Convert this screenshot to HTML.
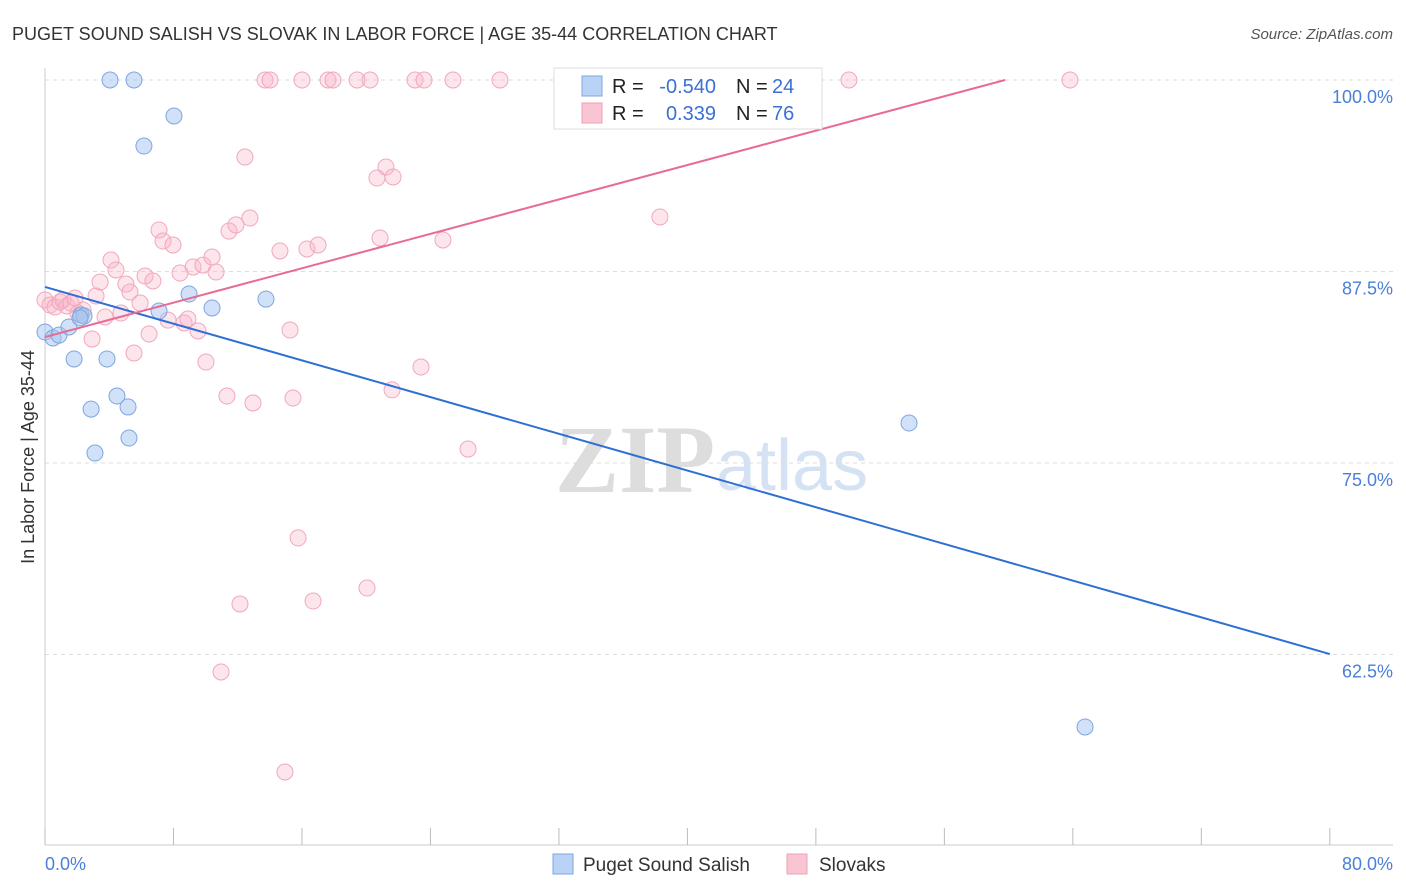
<!DOCTYPE html>
<html><head><meta charset="utf-8"><style>
body{margin:0;background:#fff;font-family:"Liberation Sans",sans-serif;}
#c{position:relative;width:1406px;height:892px;overflow:hidden;}
</style></head><body>
<div id="c">
<svg id="svg" width="1406" height="892" xmlns="http://www.w3.org/2000/svg" font-family="Liberation Sans, sans-serif">
<text x="12" y="40" font-size="18" fill="#333">PUGET SOUND SALISH VS SLOVAK IN LABOR FORCE | AGE 35-44 CORRELATION CHART</text>
<text x="1393" y="39" font-size="15" fill="#555" font-style="italic" text-anchor="end">Source: ZipAtlas.com</text>
<text x="555" y="492" font-size="96" fill="#ddd" font-family="Liberation Serif, serif" font-weight="bold">ZIP</text>
<text x="716" y="490" font-size="72" fill="#d4e2f4">atlas</text>
<text transform="translate(34,457) rotate(-90)" font-size="18" fill="#333" text-anchor="middle">In Labor Force | Age 35-44</text>
<g id="grid"></g><g id="ticks"></g><g id="pts"></g><g id="lines"></g>
<g>
<rect x="554" y="68" width="268" height="61" fill="#fff" stroke="#ddd"/>
<rect x="582" y="76" width="20" height="20" fill="#b9d3f6" stroke="#7fa6e0"/>
<rect x="582" y="103" width="20" height="20" fill="#f9c5d3" stroke="#f0a0b8"/>
<text x="612" y="93" font-size="20" fill="#222">R = </text><text x="716" y="93" font-size="20" fill="#3b70d4" text-anchor="end">-0.540</text>
<text x="736" y="93" font-size="20" fill="#222">N = </text><text x="772" y="93" font-size="20" fill="#3b70d4">24</text>
<text x="612" y="120" font-size="20" fill="#222">R = </text><text x="716" y="120" font-size="20" fill="#3b70d4" text-anchor="end">0.339</text>
<text x="736" y="120" font-size="20" fill="#222">N = </text><text x="772" y="120" font-size="20" fill="#3b70d4">76</text>
</g>
<g>
<rect x="553" y="854" width="20" height="20" fill="#b9d3f6" stroke="#7fa6e0"/>
<text x="583" y="871" font-size="19" fill="#333">Puget Sound Salish</text>
<rect x="787" y="854" width="20" height="20" fill="#f9c5d3" stroke="#f0a0b8"/>
<text x="819" y="871" font-size="19" fill="#333">Slovaks</text>
</g>
</svg>
</div>
<script>
const blueX=[0,0.5,0.87,1.49,1.81,2.24,2.43,2.87,3.11,3.86,4.05,4.48,5.17,5.23,5.54,6.16,7.1,8.03,8.97,10.4,13.76,53.8,64.76,2.18];
const blueY=[83.55,83.16,83.35,83.88,81.79,84.66,84.6,78.52,75.65,81.79,100,79.37,78.66,76.63,100,95.69,84.92,97.65,86.03,85.12,85.7,77.61,57.77,84.47];
const pinkX=[0,0.31,0.62,0.93,1.12,1.37,1.62,1.87,2.05,2.37,2.93,3.18,3.43,3.74,4.11,4.42,4.73,5.04,5.29,5.54,5.92,6.23,6.48,6.72,7.1,7.35,7.66,7.97,8.41,8.66,8.9,9.22,9.53,9.84,10.02,10.4,10.65,11.33,11.46,11.89,12.14,12.45,12.76,12.95,13.7,14.01,14.63,15.26,15.44,15.76,16.0,16.31,16.69,17.0,10.96,14.94,17.62,17.93,19.43,20.05,20.24,20.67,20.86,21.23,21.61,21.67,23.04,23.41,23.6,24.78,25.4,26.34,28.33,38.29,43.09,50.06,63.82];
const pinkY=[85.64,85.31,85.18,85.51,85.64,85.25,85.44,85.77,84.79,84.99,83.09,85.9,86.81,84.53,88.25,87.6,84.79,86.68,86.16,82.18,85.44,87.21,83.42,86.88,90.21,89.49,84.33,89.23,87.4,84.14,84.4,87.79,83.62,87.92,81.59,88.45,87.47,79.37,90.14,90.54,65.8,94.97,90.99,78.92,100,100,88.84,83.68,79.24,70.11,100,88.97,65.99,89.23,61.36,54.83,100,100,100,66.84,100,93.6,89.69,94.32,79.77,93.67,100,81.27,100,89.56,100,75.91,100,91.06,100,100,100];
const yTicks=[100,87.5,75,62.5];
const yTickLabels=["100.0%","87.5%","75.0%","62.5%"];
const xTicks=[0,8,16,24,32,40,48,56,64,72,80];
const blueTrend=[86.49,-0.2995];
const pinkTrend=[83.22,0.2807];
const NS="http://www.w3.org/2000/svg";
const X=v=>45+v*16.06, Y=v=>80+(100-v)*15.32;
function mk(t,a,p){const e=document.createElementNS(NS,t);for(const k in a)e.setAttribute(k,a[k]);document.getElementById(p).appendChild(e);return e;}
yTicks.forEach((v,i)=>{
 const l=mk('line',{x1:45,x2:1393,y1:Y(v),y2:Y(v),stroke:'#ddd','stroke-dasharray':'4,4'},'grid');
 
 
 const t=mk('text',{x:1393,y:Y(v)+23,'font-size':18,fill:'#4a7fd8','text-anchor':'end'},'grid');t.textContent=yTickLabels[i];
 
 
});
mk('line',{x1:45,x2:45,y1:68,y2:845,stroke:'#ccc'},'ticks');
mk('line',{x1:45,x2:1393,y1:845,y2:845,stroke:'#ccc'},'ticks');
xTicks.forEach(v=>{const l=mk('line',{x1:X(v),x2:X(v),y1:828,y2:845,stroke:'#bbb'},'ticks');
 
 });
let t=mk('text',{x:45,y:870,'font-size':18,fill:'#4a7fd8'},'ticks');t.textContent=(xTicks[0]).toFixed(1)+'%';

t=mk('text',{x:1393,y:870,'font-size':18,fill:'#4a7fd8','text-anchor':'end'},'ticks');t.textContent=(xTicks[xTicks.length-1]).toFixed(1)+'%';

pinkX.forEach((x,i)=>{const c=mk('circle',{cx:X(x),cy:Y(pinkY[i]),r:8,fill:'rgba(248,180,200,0.35)',stroke:'#f0a8bd','stroke-width':1},'pts');
 
 });
blueX.forEach((x,i)=>{const c=mk('circle',{cx:X(x),cy:Y(blueY[i]),r:8,fill:'rgba(164,196,240,0.5)',stroke:'#7fa6e0','stroke-width':1},'pts');
 
 });
let l=mk('line',{x1:X(0),y1:Y(blueTrend[0]),x2:X(80),y2:Y(blueTrend[0]+80*blueTrend[1]),stroke:'#2f6fd6','stroke-width':2},'lines');


const pEnd=(100-pinkTrend[0])/pinkTrend[1];
l=mk('line',{x1:X(0),y1:Y(pinkTrend[0]),x2:X(pEnd),y2:Y(100),stroke:'#e86a95','stroke-width':2},'lines');


</script>
</body></html>
